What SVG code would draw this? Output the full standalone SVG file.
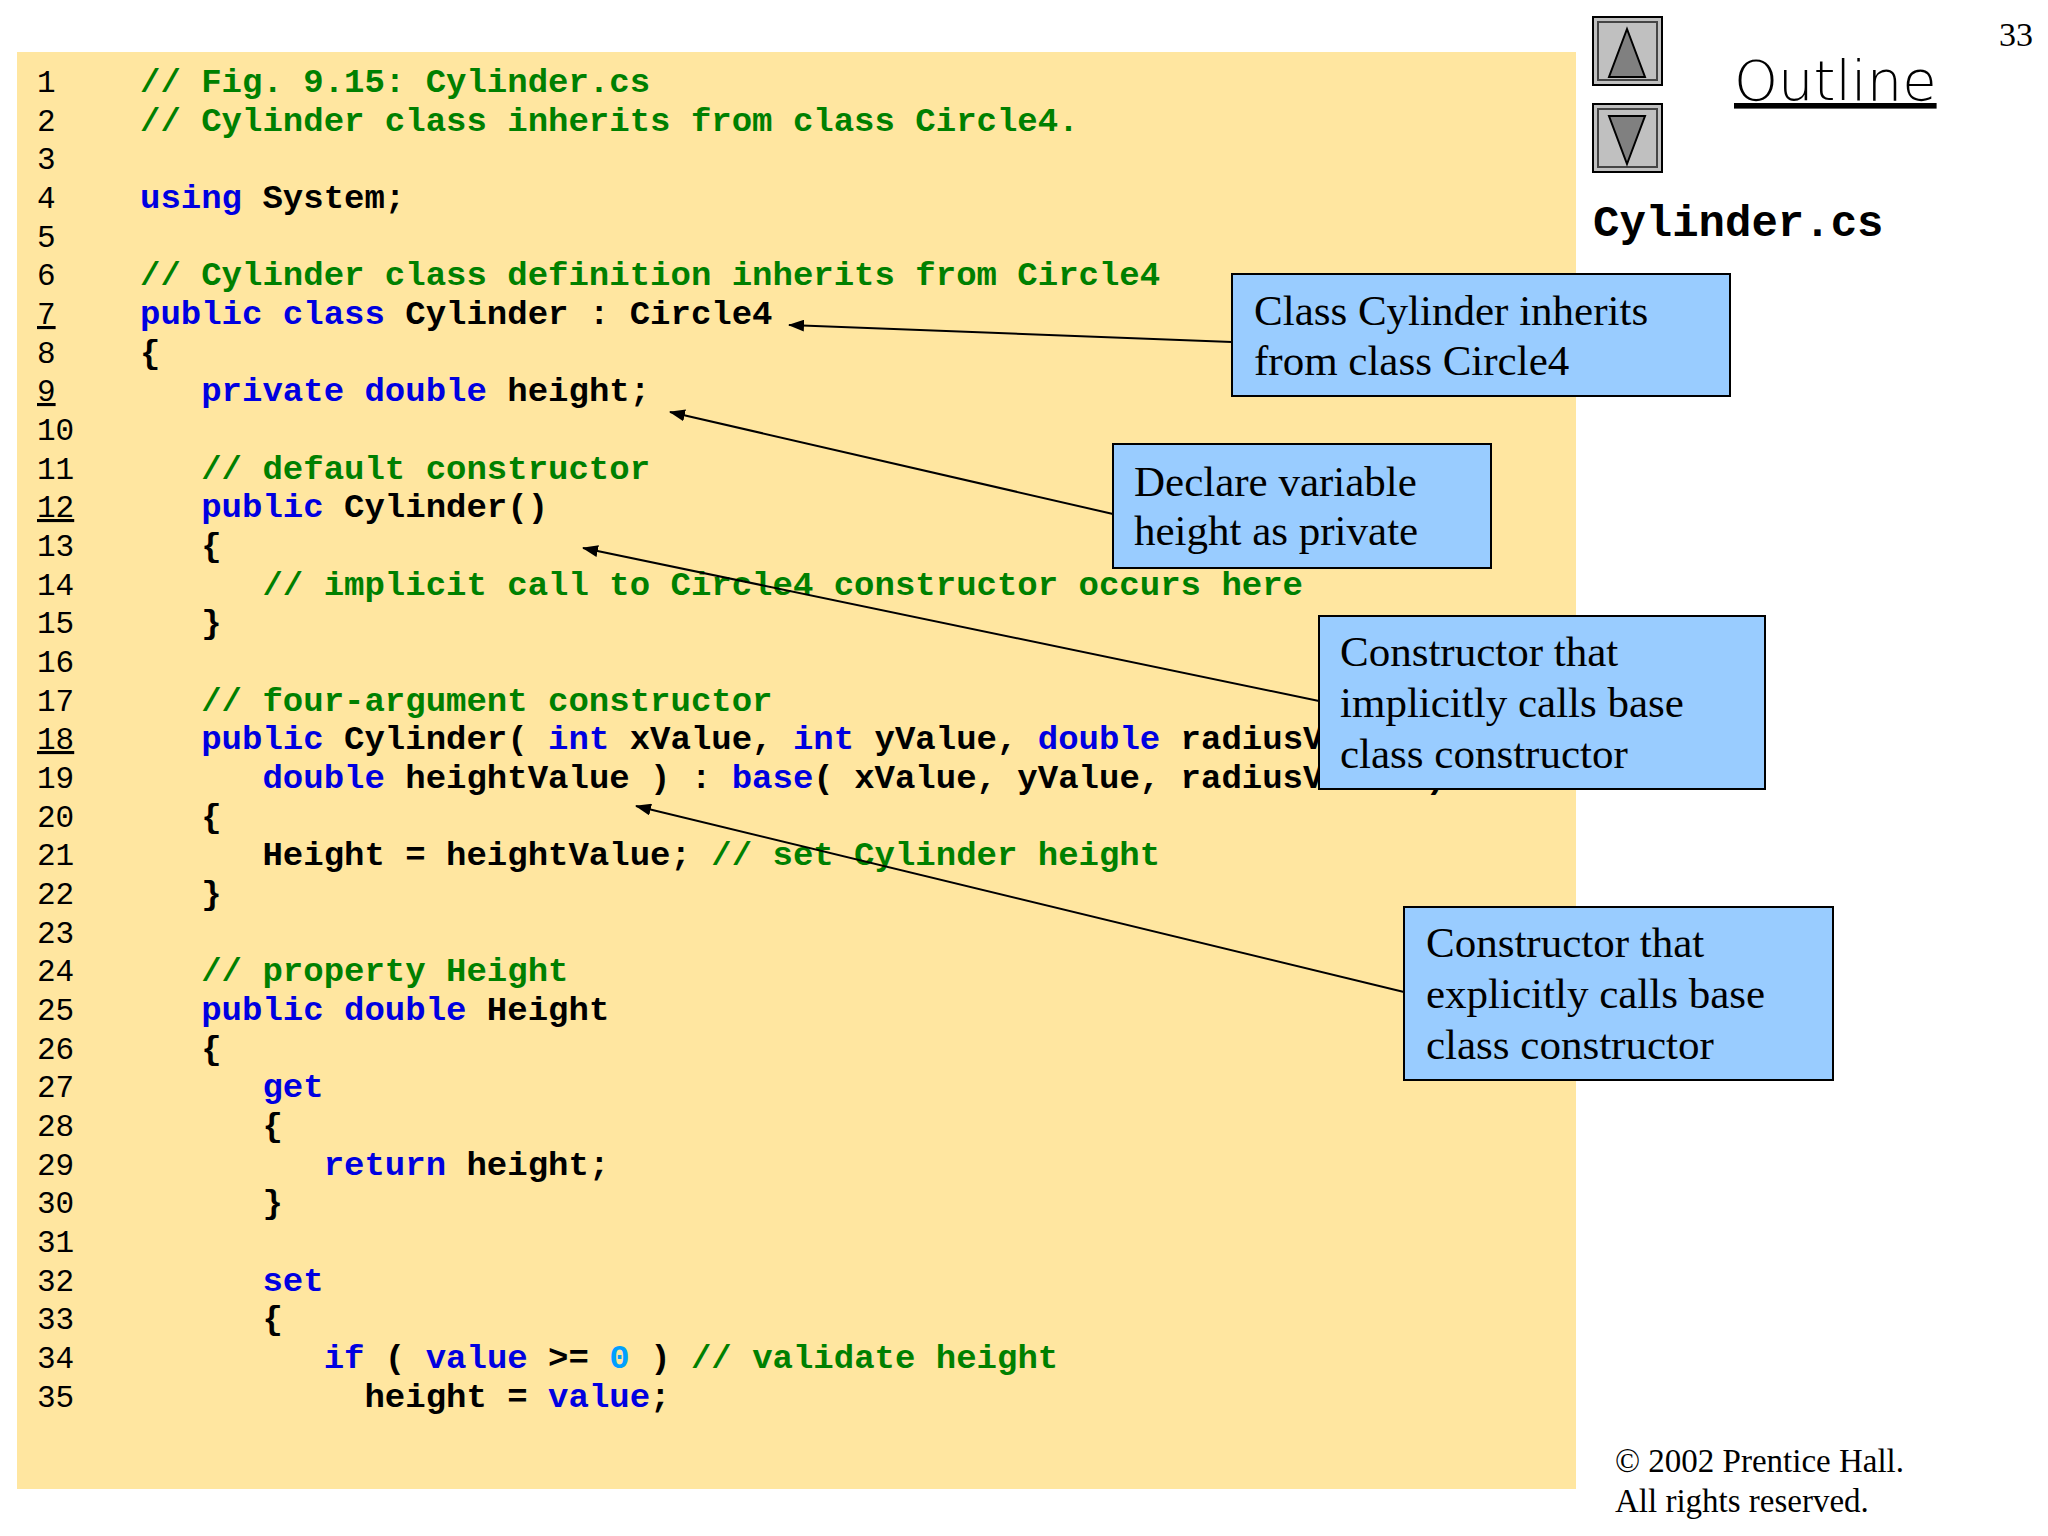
<svg xmlns="http://www.w3.org/2000/svg" width="2048" height="1536" viewBox="0 0 2048 1536">
<style>
.code text{font-family:"Liberation Mono","Courier New",monospace;font-weight:bold;font-size:34px;fill:#000;white-space:pre}
.code .k{fill:#0000e0}.code .c{fill:#008000}.code .n{fill:#00a0ff}
.ln{font-family:"Liberation Mono",monospace;font-size:31px;fill:#000}
.box{fill:#99ccff;stroke:#000;stroke-width:2}
.bt{font-family:"Liberation Serif","Times New Roman",serif;font-size:43px;fill:#000}
.arr{stroke:#000;stroke-width:2;fill:none;marker-end:url(#ah)}
</style>
<defs><marker id="ah" markerWidth="16" markerHeight="12" refX="15" refY="6" orient="auto" markerUnits="userSpaceOnUse"><path d="M0,0 L16,6 L0,12 Z" fill="#000"/></marker></defs>
<rect width="2048" height="1536" fill="#fff"/>
<rect x="17" y="52" width="1559" height="1437" fill="#ffe6a0"/>
<g id="linenums" class="ln">
<text x="37" y="92">1</text><text x="37" y="131">2</text><text x="37" y="169">3</text><text x="37" y="208">4</text><text x="37" y="247">5</text><text x="37" y="285">6</text><text x="37" y="324" text-decoration="underline">7</text><text x="37" y="363">8</text><text x="37" y="401" text-decoration="underline">9</text><text x="37" y="440">10</text><text x="37" y="479">11</text><text x="37" y="517" text-decoration="underline">12</text><text x="37" y="556">13</text><text x="37" y="595">14</text><text x="37" y="633">15</text><text x="37" y="672">16</text><text x="37" y="711">17</text><text x="37" y="749" text-decoration="underline">18</text><text x="37" y="788">19</text><text x="37" y="827">20</text><text x="37" y="865">21</text><text x="37" y="904">22</text><text x="37" y="943">23</text><text x="37" y="981">24</text><text x="37" y="1020">25</text><text x="37" y="1059">26</text><text x="37" y="1097">27</text><text x="37" y="1136">28</text><text x="37" y="1175">29</text><text x="37" y="1213">30</text><text x="37" y="1252">31</text><text x="37" y="1291">32</text><text x="37" y="1329">33</text><text x="37" y="1368">34</text><text x="37" y="1407">35</text>
</g>
<g id="code" class="code" xml:space="preserve">
<text x="140" y="92" class="c">// Fig. 9.15: Cylinder.cs</text>
<text x="140" y="131" class="c">// Cylinder class inherits from class Circle4.</text>
<text x="140" y="208"><tspan class="k">using</tspan> System;</text>
<text x="140" y="285" class="c">// Cylinder class definition inherits from Circle4</text>
<text x="140" y="324"><tspan class="k">public class</tspan> Cylinder : Circle4</text>
<text x="140" y="363">{</text>
<text x="140" y="401">   <tspan class="k">private double</tspan> height;</text>
<text x="140" y="479" class="c">   // default constructor</text>
<text x="140" y="517">   <tspan class="k">public</tspan> Cylinder()</text>
<text x="140" y="556">   {</text>
<text x="140" y="595" class="c">      // implicit call to Circle4 constructor occurs here</text>
<text x="140" y="633">   }</text>
<text x="140" y="711" class="c">   // four-argument constructor</text>
<text x="140" y="749">   <tspan class="k">public</tspan> Cylinder( <tspan class="k">int</tspan> xValue, <tspan class="k">int</tspan> yValue, <tspan class="k">double</tspan> radiusValue,</text>
<text x="140" y="788">      <tspan class="k">double</tspan> heightValue ) : <tspan class="k">base</tspan>( xValue, yValue, radiusValue )</text>
<text x="140" y="827">   {</text>
<text x="140" y="865">      Height = heightValue; <tspan class="c">// set Cylinder height</tspan></text>
<text x="140" y="904">   }</text>
<text x="140" y="981" class="c">   // property Height</text>
<text x="140" y="1020">   <tspan class="k">public double</tspan> Height</text>
<text x="140" y="1059">   {</text>
<text x="140" y="1097">      <tspan class="k">get</tspan></text>
<text x="140" y="1136">      {</text>
<text x="140" y="1175">         <tspan class="k">return</tspan> height;</text>
<text x="140" y="1213">      }</text>
<text x="140" y="1291">      <tspan class="k">set</tspan></text>
<text x="140" y="1329">      {</text>
<text x="140" y="1368">         <tspan class="k">if</tspan> ( <tspan class="k">value</tspan> &gt;= <tspan class="n">0</tspan> ) <tspan class="c">// validate height</tspan></text>
<text x="140" y="1407">           height = <tspan class="k">value</tspan>;</text>
</g>
<g id="nav">
<rect x="1593" y="17" width="69" height="68" fill="#c0c0c0" stroke="#000" stroke-width="2"/>
<rect x="1598" y="22" width="59" height="58" fill="none" stroke="#444" stroke-width="2"/>
<polygon points="1627,29 1645,77 1609,77" fill="#808080" stroke="#000" stroke-width="2"/>
<rect x="1593" y="104" width="69" height="68" fill="#c0c0c0" stroke="#000" stroke-width="2"/>
<rect x="1598" y="109" width="59" height="58" fill="none" stroke="#444" stroke-width="2"/>
<polygon points="1609,116 1645,116 1627,164" fill="#808080" stroke="#000" stroke-width="2"/>
</g>
<text x="1734" y="100" font-family="'DejaVu Sans',sans-serif" font-size="56" font-weight="300" fill="#000" text-decoration="underline">Outline</text>
<text x="2033" y="46" text-anchor="end" font-family="'Liberation Serif',serif" font-size="34">33</text>
<text x="1593" y="236" font-family="'Liberation Mono',monospace" font-weight="bold" font-size="44">Cylinder.cs</text>
<text font-family="'Liberation Serif',serif" font-size="33"><tspan x="1615" y="1472">© 2002 Prentice Hall.</tspan><tspan x="1615" y="1512">All rights reserved.</tspan></text>
<g id="connectors">
<line class="arr" x1="1232" y1="342" x2="789" y2="325"/>
<line class="arr" x1="1113" y1="514" x2="670" y2="412"/>
<line class="arr" x1="1319" y1="701" x2="583" y2="548"/>
<line class="arr" x1="1404" y1="992" x2="636" y2="806"/>
</g>
<g id="c1"><rect class="box" x="1232" y="274" width="498" height="122"/><text class="bt"><tspan x="1254" y="325">Class Cylinder inherits</tspan><tspan x="1254" y="375">from class Circle4</tspan></text></g>
<g id="c2"><rect class="box" x="1113" y="444" width="378" height="124"/><text class="bt"><tspan x="1134" y="496">Declare variable</tspan><tspan x="1134" y="545">height as private</tspan></text></g>
<g id="c3"><rect class="box" x="1319" y="616" width="446" height="173"/><text class="bt"><tspan x="1340" y="666">Constructor that</tspan><tspan x="1340" y="717">implicitly calls base</tspan><tspan x="1340" y="768">class constructor</tspan></text></g>
<g id="c4"><rect class="box" x="1404" y="907" width="429" height="173"/><text class="bt"><tspan x="1426" y="957">Constructor that</tspan><tspan x="1426" y="1008">explicitly calls base</tspan><tspan x="1426" y="1059">class constructor</tspan></text></g>
</svg>
